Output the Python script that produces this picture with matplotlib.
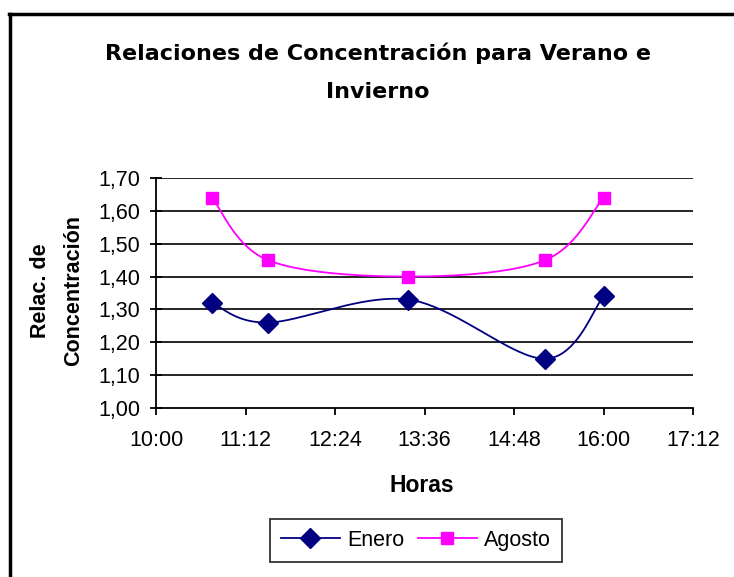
import matplotlib
matplotlib.use("Agg")
import matplotlib.pyplot as plt
import numpy as np
from matplotlib.ticker import FixedLocator, FuncFormatter
from matplotlib.lines import Line2D

plt.rcParams['font.family'] = ['Liberation Sans', 'DejaVu Sans']

# ---- data ----
times = ["10:45", "11:30", "13:23", "15:13", "16:00"]
enero = [1.32, 1.26, 1.33, 1.15, 1.34]
agosto = [1.64, 1.45, 1.40, 1.45, 1.64]
x_ticks = ["10:00", "11:12", "12:24", "13:36", "14:48", "16:00", "17:12"]
y_ticks = [1.00, 1.10, 1.20, 1.30, 1.40, 1.50, 1.60, 1.70]
title = "Relaciones de Concentración para Verano e\nInvierno"
xlabel = "Horas"
ylabel = "Relac. de\nConcentración"
series_names = ["Enero", "Agosto"]


def to_hours(s):
    h, m = s.split(":")
    return int(h) + int(m) / 60.0


def smooth(xs, ys, n=40):
    P = np.column_stack([xs, ys])
    k = len(P)
    out = [P[0]]
    for i in range(k - 1):
        p0 = P[i - 1] if i > 0 else P[i]
        p1 = P[i]
        p2 = P[i + 1]
        p3 = P[i + 2] if i + 2 < k else P[i + 1]
        b1 = p1 + (p2 - p0) / 6.0
        b2 = p2 - (p3 - p1) / 6.0
        t = np.linspace(0, 1, n)[1:, None]
        seg = ((1 - t) ** 3) * p1 + 3 * ((1 - t) ** 2) * t * b1 + 3 * (1 - t) * t ** 2 * b2 + t ** 3 * p2
        out.extend(seg)
    out = np.array(out)
    return out[:, 0], out[:, 1]


xh = np.array([to_hours(t) for t in times])
xt = np.array([to_hours(t) for t in x_ticks])

W, H = 734, 577
fig = plt.figure(figsize=(W / 100, H / 100), dpi=100)
fig.patch.set_facecolor("white")

# plot area in pixels
L, R, T, B = 156, 693, 178, 408
ax = fig.add_axes([L / W, 1 - B / H, (R - L) / W, (B - T) / H])
ax.set_xlim(xt[0], xt[-1])
ax.set_ylim(y_ticks[0], y_ticks[-1])

navy = "#000080"
mag = "#FF00FF"

sx, sy = smooth(xh, np.array(enero))
ax.plot(sx, sy, color=navy, lw=1.3, zorder=3)
ax.plot(xh, enero, ls="none", marker="D", ms=10, color=navy, zorder=4, clip_on=False)
sx, sy = smooth(xh, np.array(agosto))
ax.plot(sx, sy, color=mag, lw=1.3, zorder=3)
ax.plot(xh, agosto, ls="none", marker="s", ms=8.5, color=mag, zorder=4, clip_on=False)

for yv in y_ticks[1:]:
    ax.axhline(yv, color="black", lw=1.2, zorder=2)

for s in ["top", "right"]:
    ax.spines[s].set_visible(False)
for s in ["left", "bottom"]:
    ax.spines[s].set_linewidth(1.3)
    ax.spines[s].set_color("black")

ax.xaxis.set_major_locator(FixedLocator(xt))
ax.set_xticklabels(x_ticks)
ax.yaxis.set_major_locator(FixedLocator(y_ticks))
ax.yaxis.set_major_formatter(FuncFormatter(lambda v, p: f"{v:.2f}".replace(".", ",")))
ax.tick_params(axis="x", direction="out", length=5, width=1.3, labelsize=15.5, pad=11, colors="black")
ax.tick_params(axis="y", direction="inout", length=9, width=1.3, labelsize=15.5, pad=7, colors="black")

fig.text(378 / W, 1 - 72 / H, title, ha="center", va="center", fontsize=16,
         fontweight="bold", linespacing=2.15, family=['DejaVu Sans'])
fig.text(422 / W, 1 - 485 / H, xlabel, ha="center", va="center", fontsize=16.5, fontweight="bold")
fig.text(57 / W, 1 - 291 / H, ylabel, ha="center", va="center", fontsize=15.5, fontweight="bold",
         rotation=90, linespacing=1.75)

handles = [Line2D([], [], color=navy, marker="D", ms=10, lw=1.3),
           Line2D([], [], color=mag, marker="s", ms=8.5, lw=1.3)]
leg = fig.legend(handles, series_names, loc="center", bbox_to_anchor=(416 / W, 1 - 540.5 / H),
                 ncol=2, frameon=True, fancybox=False, edgecolor="black", fontsize=15.5,
                 handlelength=2.75, columnspacing=0.6, handletextpad=0.35, borderpad=0.52,
                 borderaxespad=0)
leg.get_frame().set_linewidth(1.3)

# outer chart border (left and top visible)
fig.add_artist(Line2D([9.5 / W, 9.5 / W], [0, 1 - 13.5 / H], transform=fig.transFigure, color="black", lw=2.5))
fig.add_artist(Line2D([8.5 / W, 1], [1 - 13.5 / H, 1 - 13.5 / H], transform=fig.transFigure, color="black", lw=2.5))

fig.savefig("out.png", dpi=100)
